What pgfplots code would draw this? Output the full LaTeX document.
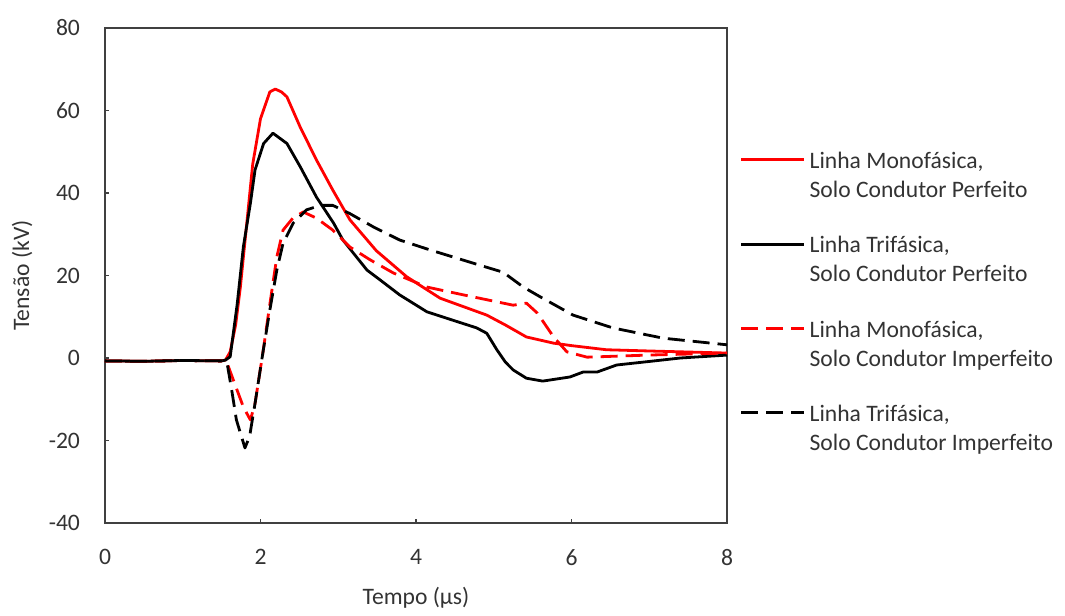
\documentclass[border=0pt]{standalone}
\usepackage{fontspec}
\setmainfont{Carlito}
\usepackage{pgfplots}
\pgfplotsset{compat=1.18}

\definecolor{axgray}{HTML}{404040}
\definecolor{txtgray}{HTML}{333333}
\newcommand{\entry}[2]{\begin{tabular}[t]{@{}l@{}}#1\\#2\end{tabular}}

\begin{document}
\begin{tikzpicture}
\begin{axis}[
  scale only axis,
  width=311pt, height=247.5pt,
  xmin=0, xmax=8, ymin=-40, ymax=80,
  xtick={0,2,4,6,8},
  ytick={-40,-20,0,20,40,60,80},
  tick align=inside,
  tick pos=left,
  major tick length=1.8pt,
  axis line style={axgray, line width=0.6pt},
  every tick/.style={axgray, line width=0.6pt},
  /pgf/number format/assume math mode=true,
  tick label style={font=\fontsize{11.8}{14}\selectfont, text=txtgray},
  yticklabel style={xshift=-9pt},
  xticklabel style={yshift=-9.6pt},
  xlabel={Tempo (µs)},
  ylabel={Tensão (kV)},
  label style={font=\fontsize{11.8}{14}\selectfont, text=txtgray},
  xlabel style={at={(axis description cs:0.5,-0.1515)}, anchor=center},
  ylabel style={at={(axis description cs:-0.1334,0.5)}, anchor=center},
  legend cell align=left,
  legend style={draw=none, fill=none, at={(1.02,0.766)}, anchor=north west,
    font=\fontsize{11.8}{14.5}\selectfont, text=txtgray, inner sep=0pt,
    row sep=26.5pt},
  legend image code/.code={\draw[#1] (0pt,0pt) -- (31.5pt,0pt);},
  every axis plot/.append style={line width=1.4pt, line join=round},
]
% Linha Monofasica, solo condutor perfeito
\addplot[red] coordinates {
(0,-0.7) (0.5,-0.8) (1.0,-0.6) (1.5,-0.7) (1.55,-0.5) (1.61,1.5) (1.68,8)
(1.74,17) (1.82,32) (1.90,47) (2.00,58) (2.12,64.5) (2.19,65.2) (2.27,64.5)
(2.34,63.3) (2.51,56) (2.72,48) (2.93,40.7) (3.15,33.5) (3.49,26) (3.88,19.7)
(4.31,14.5) (4.91,10.4) (5.15,8) (5.42,5.1) (5.77,3.6) (6.0,3) (6.45,2)
(7.0,1.7) (8.0,1.2)
};
\addlegendentry{\entry{Linha Monofásica,}{Solo Condutor Perfeito}}
% Linha Trifasica, solo condutor perfeito
\addplot[black] coordinates {
(0,-0.7) (0.5,-0.8) (1.0,-0.6) (1.5,-0.7) (1.55,-0.5) (1.61,0.3) (1.70,13)
(1.78,27) (1.87,37.5) (1.93,45.6) (2.04,52) (2.16,54.5) (2.34,52) (2.51,46.4)
(2.72,39) (2.94,32.7) (3.06,28.6) (3.37,21.3) (3.54,18.9) (3.79,15.3)
(4.14,11.2) (4.50,9.0) (4.78,7.3) (4.91,6) (5.04,2) (5.15,-1) (5.25,-2.9)
(5.42,-4.9) (5.63,-5.6) (5.98,-4.6) (6.15,-3.4) (6.33,-3.4) (6.58,-1.7)
(6.97,-0.9) (7.4,0) (8,0.7)
};
\addlegendentry{\entry{Linha Trifásica,}{Solo Condutor Perfeito}}
% Linha Monofasica, solo condutor imperfeito
\addplot[red, dash pattern=on 8.5pt off 4pt] coordinates {
(0,-0.7) (0.5,-0.8) (1.0,-0.6) (1.5,-0.7) (1.57,-1.2) (1.65,-5.3) (1.78,-11.9)
(1.87,-15) (1.93,-11) (2.03,1.2) (2.12,13) (2.21,24.5) (2.29,31) (2.42,34)
(2.55,35.4) (2.72,33.9) (2.93,31) (3.15,26.9) (3.41,23.8) (3.71,20.6)
(4.14,17.2) (4.61,15.3) (5.25,12.8) (5.42,13.3) (5.56,10.9) (5.77,5.1)
(5.94,1.5) (6.2,0.2) (6.97,0.7) (8,1.2)
};
\addlegendentry{\entry{Linha Monofásica,}{Solo Condutor Imperfeito}}
% Linha Trifasica, solo condutor imperfeito
\addplot[black, dash pattern=on 8.5pt off 4pt] coordinates {
(0,-0.7) (0.5,-0.8) (1.0,-0.6) (1.5,-0.7) (1.57,-1.2) (1.63,-7.8) (1.69,-15)
(1.80,-21.8) (1.86,-19) (1.93,-11) (2.03,1.2) (2.12,11.6) (2.21,21.3)
(2.29,27.8) (2.42,32.7) (2.59,35.9) (2.77,37) (2.93,37) (3.15,35) (3.45,31.8)
(3.79,28.6) (4.18,26.2) (4.82,22.5) (5.12,20.8) (5.38,17.2) (5.6,14.8)
(6.02,10.4) (6.53,7.3) (7.18,4.8) (8,3.2)
};
\addlegendentry{\entry{Linha Trifásica,}{Solo Condutor Imperfeito}}
\end{axis}
% page margins around the axis box, as in the reference
\path (current axis.north) ++(0,14pt);
\path (current axis.south) ++(0,-43.5pt);
\path (current axis.west) ++(-52.5pt,0);
\path (current axis.east) ++(169pt,0);
\end{tikzpicture}
\end{document}
